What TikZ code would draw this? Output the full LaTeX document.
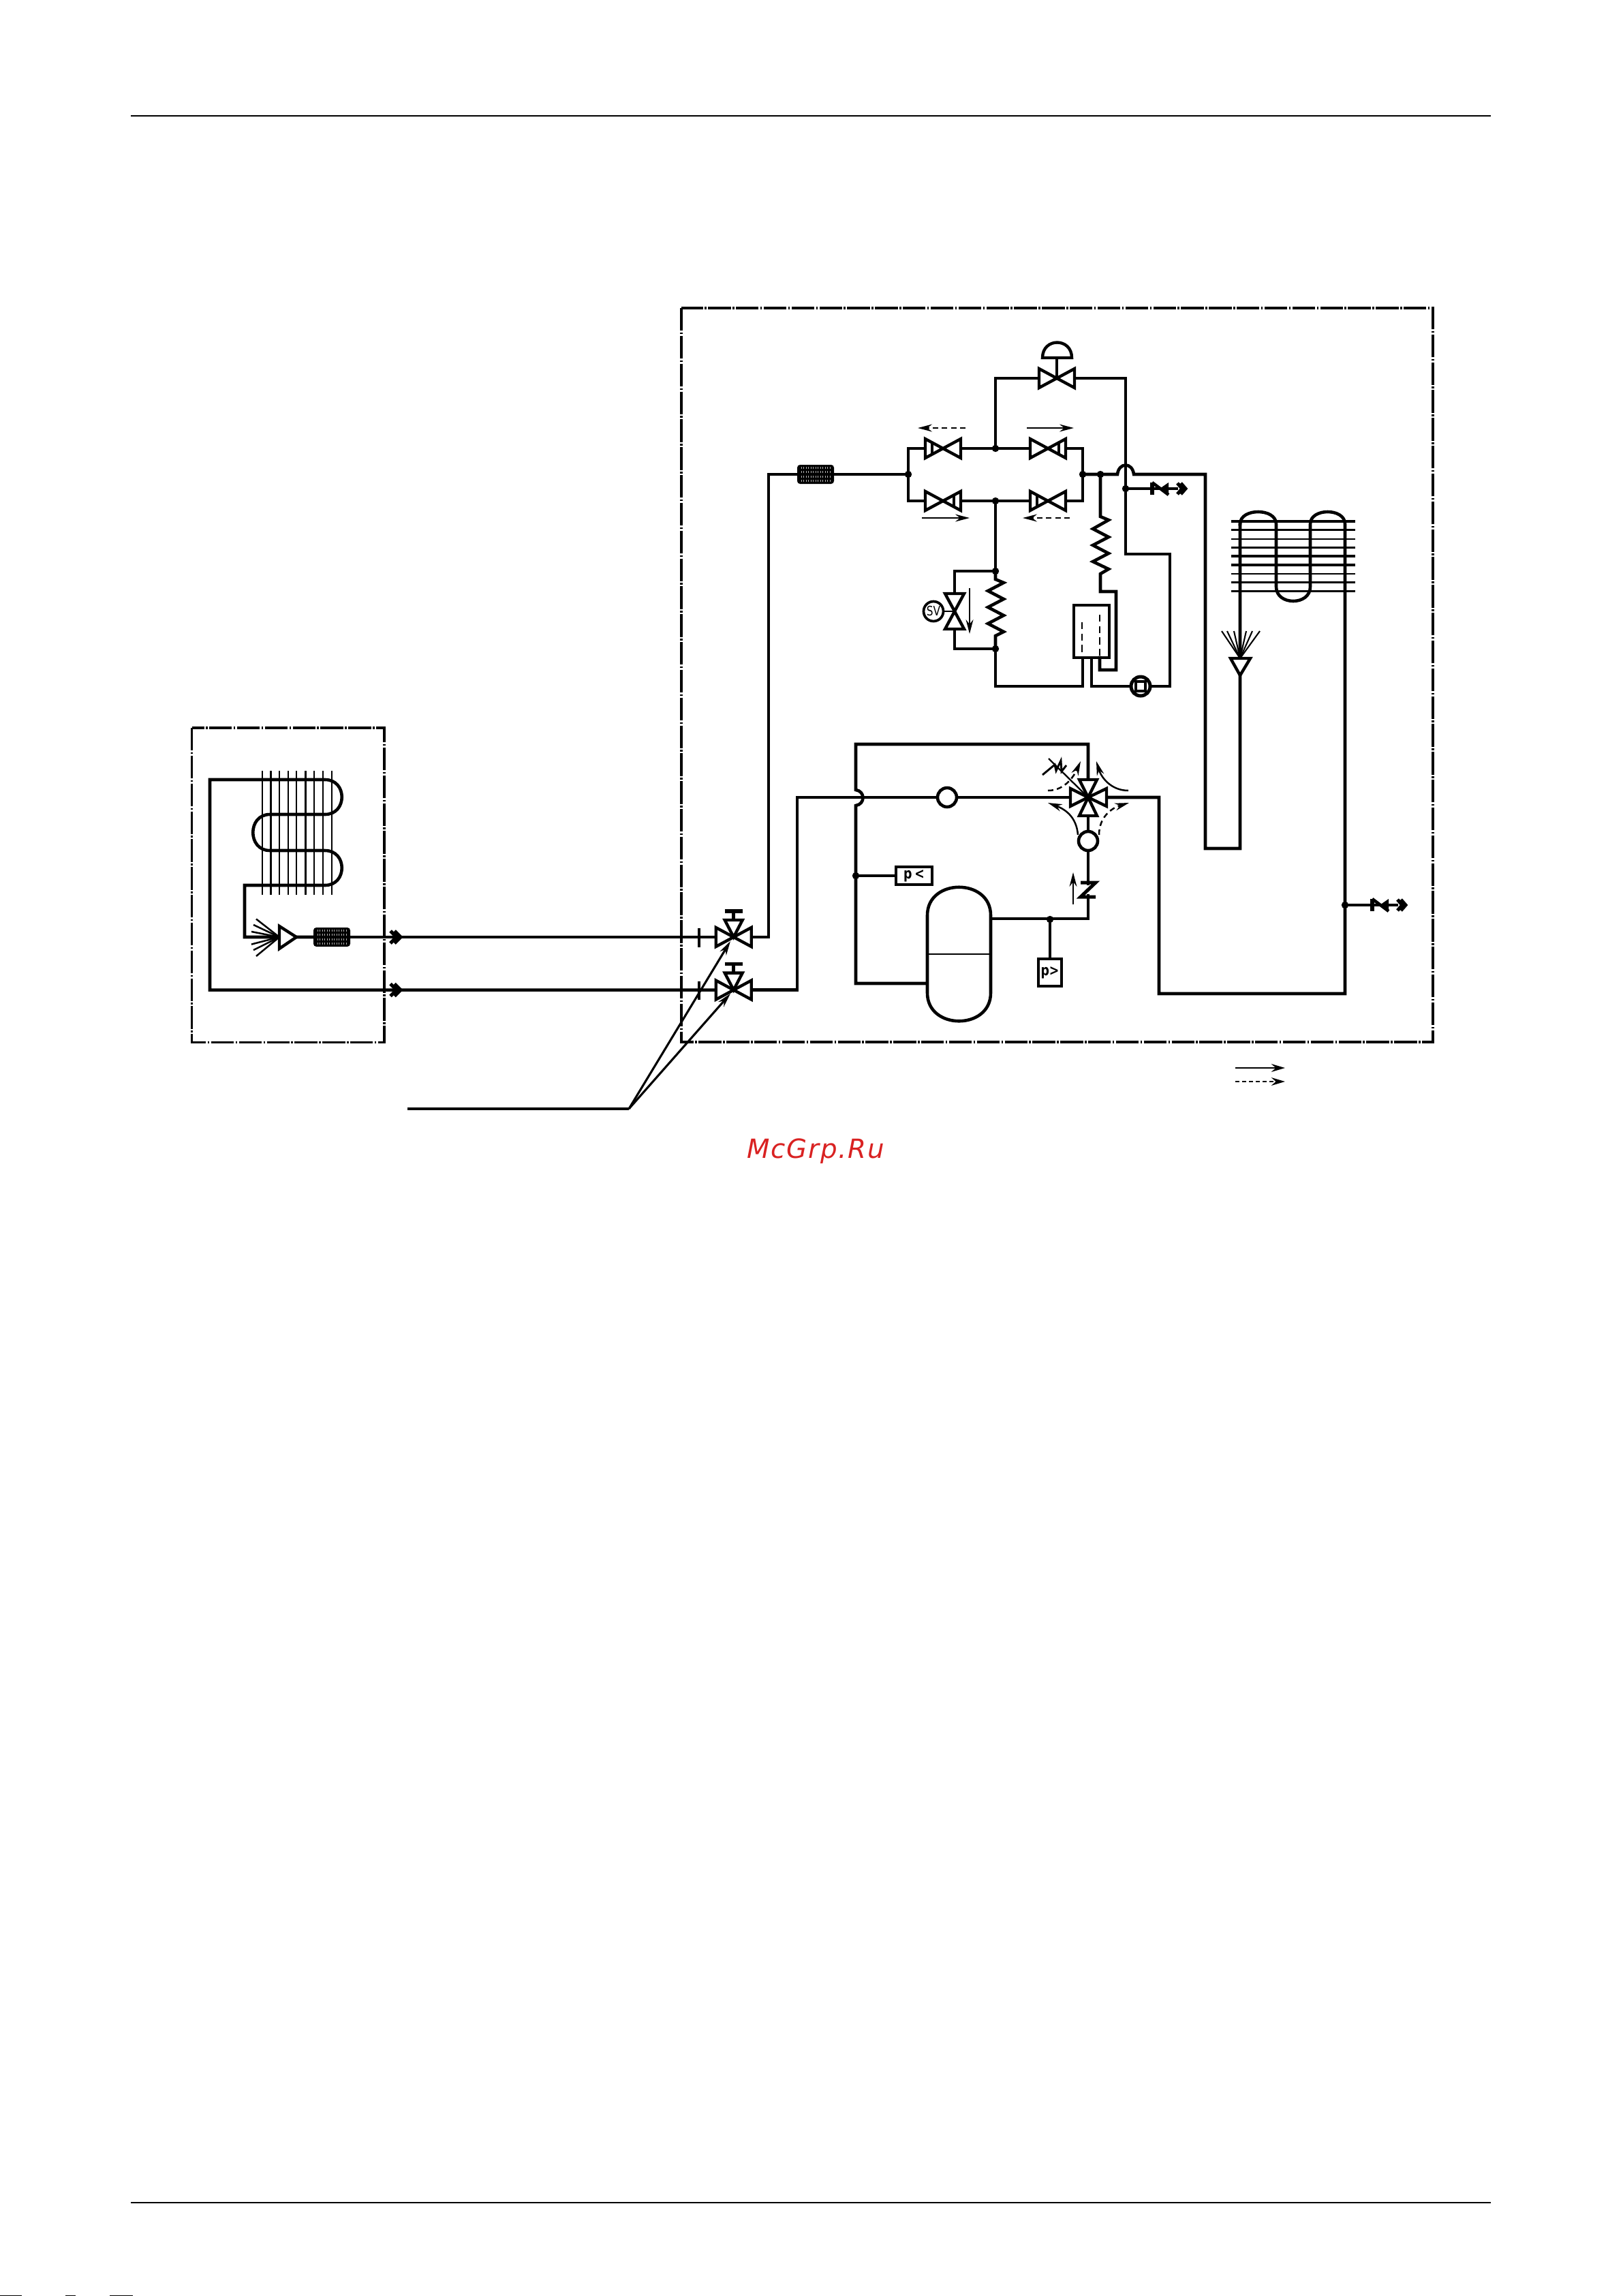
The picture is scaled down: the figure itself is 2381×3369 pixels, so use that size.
\documentclass[tikz,border=0pt]{standalone}
\usepackage{fontspec}
\usetikzlibrary{arrows.meta}
\setmainfont{Liberation Sans}
\newfontfamily\wmfont[LetterSpace=4.5]{DejaVu Sans}
\newfontfamily\lblfont[FakeStretch=0.8]{DejaVu Sans}
\definecolor{wmred}{HTML}{D92222}
\tikzset{
  pipe/.style={line width=1.1pt,line join=miter,line cap=rect},
  vlv/.style={line width=1.05pt,line join=miter,fill=white},
  finA/.style={line width=0.85pt},
  finB/.style={line width=0.55pt},
  frame/.style={line width=0.75pt,dash pattern=on 8pt off .6pt on .6pt off .6pt},
  rule/.style={line width=0.55pt},
  dot/.style={circle,fill=black,inner sep=0pt,minimum size=2.5pt},
  gauge/.style={draw,line width=1.1pt,fill=white,inner sep=0pt,font=\lblfont\bfseries\fontsize{5.2}{6}\selectfont},
  thinarrow/.style={line width=0.6pt,-{Stealth[length=5pt,width=2.6pt]}},
  dasharrow/.style={thinarrow,dash pattern=on 1.9pt off 1.3pt},
  bowtieh/.pic={\draw[vlv] (-26,-14) -- (26,14) -- (26,-14) -- (-26,14) -- cycle;},
  bowtiev/.pic={\draw[vlv] (-14,-26) -- (14,26) -- (-14,26) -- (14,-26) -- cycle;},
  stripeL/.pic={\draw[line width=1pt] (-16,-9) -- (-16,9);},
  stripeR/.pic={\draw[line width=1pt] (16,-9) -- (16,9);},
  topwheel/.pic={\draw[vlv] (-13,-25) -- (13,-25) -- (0,0) -- cycle;
     \draw[line width=1.1pt] (0,-25) -- (0,-38); \draw[line width=1.3pt] (-13,-38) -- (13,-38);},
  chev/.pic={\draw[line width=1.2pt,line join=miter] (-8,-9) -- (1,0) -- (-8,9) (-2,-9) -- (7,0) -- (-2,9);},
  filterpack/.pic={\fill[black,rounded corners=1pt] (-27,-14) rectangle (27,14);
     \foreach \r in {-9.5,-3.2,3.2,9.5}{\foreach \c in {-21,-17.5,...,21.5}{\fill[white!70!black] (\c-.5,\r-1.4) rectangle (\c+.5,\r+1.4);}}},
  svc/.pic={\draw[line width=1.3pt] (0,-9) -- (0,9);
     \draw[line width=1.1pt] (0,-9) -- (24,9);
     \fill (11,0) -- (24,-9) -- (24,9) -- cycle;
     \draw[line width=1.1pt] (0,0) -- (38,0);
     \draw[line width=1.2pt,line join=miter] (37,-8) -- (44,0) -- (37,8) (42,-8) -- (49,0) -- (42,8);},
}
\begin{document}
\begin{tikzpicture}[x=0.24pt,y=-0.24pt]
\useasboundingbox (0,0) rectangle (2381,3369);
% junctions
\coordinate (jfl) at (1333,696);
\coordinate (jfr) at (1589,696);
\coordinate (jcap) at (1615,696);
\coordinate (jtop) at (1461,658);
\coordinate (jbot) at (1461,735);
\coordinate (jsvt) at (1461,838);
\coordinate (jsvb) at (1461,952);
\coordinate (jsuc) at (1652,717);
\coordinate (jpl) at (1256,1285);
\coordinate (jph) at (1541,1349);
\coordinate (jsv2) at (1974,1328);
\coordinate (vliq) at (1076.7,1375);
\coordinate (vgas) at (1076.7,1452.6);
\coordinate (vtop) at (1551,555);
\coordinate (vsol) at (1401,897);
\coordinate (fourw) at (1597,1170);
\coordinate (filt1) at (1197,696);
\coordinate (filt2) at (487,1375);
\coordinate (mufa) at (1390,1170);
\coordinate (mufb) at (1597,1234);
\coordinate (comp) at (1674,1007);
\coordinate (leader) at (923,1627);
% page rules
\draw[rule] (192,170) -- (2188,170);
\draw[rule] (192,3232) -- (2188,3232);
\draw[line width=0.3pt] (0,3368.5) -- (32,3368.5) (96,3368.5) -- (111,3368.5) (161,3368.5) -- (195,3368.5);
% frames
\draw[frame] (1000,452) rectangle (2103,1529);
\draw[frame] (281.5,1068) rectangle (564,1529.5);
% indoor coil
\foreach \x/\s in {385/finB,397.4/finA,410/finB,423/finB,435/finB,448.5/finA,461/finB,474/finB,487/finB}
  \draw[\s] (\x,1131) -- (\x,1312.5);
\draw[pipe] (filt2) -- (vliq);
\draw[pipe] (vgas) -- (308,1452.6) -- (308,1144) -- (477,1144)
  .. controls (510,1144) and (510,1195) .. (477,1195) -- (396,1195)
  .. controls (363,1195) and (363,1248) .. (396,1248) -- (477,1248)
  .. controls (510,1248) and (510,1299) .. (477,1299) -- (359,1299) -- (359,1375) -- (filt2);
\foreach \ex/\ey in {376/1348.5,372/1357,369/1367,369/1375,369/1385.6,372/1394,376/1403}
  \draw[line width=0.6pt] (410,1375) -- (\ex,\ey);
\draw[vlv] (410,1359) -- (435,1375) -- (410,1392) -- cycle;
\pic at (filt2) {filterpack};
\pic at (581,1375) {chev};
\pic at (581,1452.6) {chev};
% service bars
\draw[line width=0.9pt] (1026,1362) -- (1026,1389.5) (1026,1440) -- (1026,1467);
% main pipes
\draw[pipe] (vliq) -- (1128,1375) -- (1128,696) -- (filt1) -- (jfl);
\draw[pipe] (jfl) -- (1333,658) -- (jfr|-jtop) -- (jfr);
\draw[pipe] (jfl) -- (1333,735) -- (jfr|-jbot) -- (jfr);
\draw[pipe] (jtop) -- (1461,555) -- (1652,555) -- (jsuc);
\draw[pipe] (jsuc) -- (1652,813) -- (1717,813) -- (1717,1007) -- (comp);
\draw[pipe] (jfr) -- (1640,696) .. controls (1642,678) and (1662,678) .. (1664,696) -- (1769,696) -- (1769,1245) -- (1820,1245) -- (1820,769);
\draw[pipe] (1820,769) .. controls (1820,745) and (1873,745) .. (1873,769) -- (1873,861)
  .. controls (1873,889) and (1923,889) .. (1923,861) -- (1923,769)
  .. controls (1923,745) and (1974,745) .. (1974,769) -- (1974,1458) -- (1701,1458) -- (1701,1170) -- (fourw);
\foreach \y/\s in {765/finA,777.5/finB,791/finB,803.6/finA,816/finA,829/finA,842/finB,854.5/finB,867.5/finA}
  \draw[\s] (1807,\y) -- (1989,\y);
\foreach \ex in {1793,1801,1811,1820,1829,1838,1849}
  \draw[line width=0.5pt] (1820,966) -- (\ex,926);
\draw[vlv] (1806,966) -- (1835,966) -- (1820,991) -- cycle;
% capillary and solenoid branch
\draw[pipe] (jbot) -- (1461,1007) -- (1589,1007) -- (1589,965);
\draw[pipe] (1602,965) -- (1602,1007) -- (comp);
\draw[pipe] (jcap) -- (1615,758) -- (1627,763) -- (1604,776) -- (1627,788) -- (1604,800) -- (1627,812) -- (1604,824) -- (1627,835) -- (1615,842) -- (1615,868) -- (1638,868) -- (1638,983) -- (1614,983) -- (1614,965);
\draw[pipe] (jsvt) -- (1401,838) -- (1401,952) -- (jsvb);
\fill[white] (1440,842) rectangle (1480,948);
\draw[pipe] (jsvt) -- (1461,850) -- (1473,855) -- (1450,867) -- (1473,879) -- (1450,891) -- (1473,903) -- (1450,915) -- (1473,927) -- (1461,933) -- (jsvb);
\pic at (vsol) {bowtiev};
\draw[line width=0.7pt] (1370,897) -- (vsol);
\node[circle,draw,line width=0.9pt,fill=white,minimum size=6.96pt,inner sep=0pt,font=\lblfont\fontsize{4.6}{5}\selectfont] (sv) at (1370,897) {SV};
\draw[thinarrow] (1423,863) -- (1423,930);
% accumulator box
\draw[line width=1.1pt] (1576,888) rectangle (1628,965);
\draw[line width=0.6pt,dash pattern=on 2.5pt off 1.5pt] (1588,913) -- (1588,965) (1614,902) -- (1614,965);
% compressor
\draw[line width=1.2pt,fill=white] (comp) circle[radius=14];
\draw[line width=1.1pt] (1667,1000) rectangle (1681,1014);
% top valve
\pic at (vtop) {bowtieh};
\draw[line width=1pt] (vtop) -- (1551,525);
\draw[vlv] (1530,525) .. controls (1530,495) and (1573,495) .. (1573,525) -- cycle;
% four row valves
\pic at (1384,658) {bowtieh}; \pic at (1384,658) {stripeL};
\pic at (1538,658) {bowtieh}; \pic at (1538,658) {stripeR};
\pic at (1384,735) {bowtieh}; \pic at (1384,735) {stripeR};
\pic at (1538,735) {bowtieh}; \pic at (1538,735) {stripeL};
\draw[dasharrow] (1417,628) -- (1347,628);
\draw[thinarrow] (1507,628) -- (1576,628);
\draw[thinarrow] (1353,760) -- (1423,760);
\draw[dasharrow] (1570,760) -- (1501,760);
\pic at (filt1) {filterpack};
% service ports
\pic at (1691,717) {svc};
\draw[pipe] (jsuc) -- (1691,717);
\pic at (2014,1328) {svc};
\draw[pipe] (jsv2) -- (2014,1328);
% low side
\draw[pipe] (vgas) -- (1170,1452.6) -- (1170,1170) -- (fourw);
\draw[pipe] (1361,1443) -- (1256,1443) -- (1256,1182) .. controls (1270,1180) and (1270,1161) .. (1256,1159) -- (1256,1092) -- (1597,1092) -- (fourw);
\draw[pipe] (fourw) -- (1597,1348) -- (1454,1348);
\draw[pipe] (jph) -- (1541,1407);
\draw[pipe] (jpl) -- (1315,1285);
\draw[pipe,fill=white] (mufa) circle[radius=14];
\draw[pipe,fill=white] (mufb) circle[radius=14];
\fill[white] (1588,1299) rectangle (1606,1312);
\draw[line width=1.2pt,line join=miter] (1586,1295) -- (1608,1295) -- (1586,1316) -- (1608,1316);
\draw[thinarrow] (1575,1327) -- (1575,1280);
% receiver
\draw[line width=1.1pt,fill=white] (1361,1343) .. controls (1361,1288) and (1454,1288) .. (1454,1343) -- (1454,1457)
   .. controls (1454,1512) and (1361,1512) .. (1361,1457) -- cycle;
\draw[line width=0.7pt] (1361,1400) -- (1454,1400);
% pressure switches
\node[gauge,minimum width=12.7pt,minimum height=6.2pt] (pl) at (1341.5,1285) {p\,<};
\node[gauge,minimum width=8.2pt,minimum height=9.6pt] (ph) at (1541,1427) {p>};
% four way valve
\draw[vlv] (fourw) -- (1571,1157) -- (1571,1183) -- cycle;
\draw[vlv] (fourw) -- (1624,1157) -- (1624,1183) -- cycle;
\draw[vlv] (fourw) -- (1584,1144) -- (1610,1144) -- cycle;
\draw[vlv] (fourw) -- (1584,1197) -- (1610,1197) -- cycle;
\draw[dasharrow] (1538,1160) .. controls (1565,1160) and (1578,1135) .. (1586,1117);
\draw[thinarrow] (1656,1160) .. controls (1630,1160) and (1616,1140) .. (1609,1117);
\draw[thinarrow] (1582,1225) .. controls (1580,1200) and (1565,1188) .. (1538,1178);
\draw[dasharrow] (1613,1225) .. controls (1613,1200) and (1630,1186) .. (1657,1178);
\draw[line width=0.55pt] (fourw) -- (1539,1113);
\draw[line width=0.7pt] (1530,1137) -- (1548,1122) -- (1550,1131) -- (1557,1116) -- (1558,1132) -- (1565,1123);
% stop valves
\pic at (vliq) {bowtieh}; \pic at (vliq) {topwheel};
\pic at (vgas) {bowtieh}; \pic at (vgas) {topwheel};
% leader
\draw[line width=0.9pt] (598,1627) -- (leader);
\draw[thinarrow,line width=0.75pt] (leader) -- (1072,1381);
\draw[thinarrow,line width=0.75pt] (leader) -- (1072,1458);
% junction dots
\foreach \j in {jfl,jfr,jcap,jtop,jbot,jsvt,jsvb,jsuc,jpl,jph,jsv2}
  \node[dot] at (\j) {};
% legend
\draw[line width=0.7pt,-{Stealth[length=4.8pt,width=2.8pt]}] (1813,1567) -- (1886,1567);
\draw[line width=0.7pt,dash pattern=on 1.4pt off 1pt,-{Stealth[length=4.8pt,width=2.8pt]}] (1813,1587) -- (1886,1587);
% watermark
\node[text=wmred,font=\wmfont\itshape\fontsize{9.3}{11}\selectfont,inner sep=0pt,anchor=base] (wm) at (1197,1699) {McGrp.Ru};
\end{tikzpicture}
\end{document}
